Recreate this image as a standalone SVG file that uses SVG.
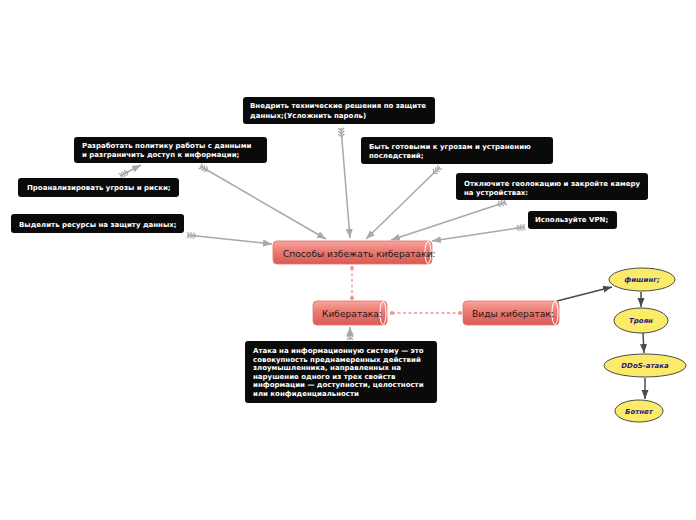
<svg xmlns="http://www.w3.org/2000/svg" width="696" height="520" viewBox="0 0 696 520">
<defs>
<linearGradient id="pink" x1="0" y1="0" x2="0" y2="1">
<stop offset="0" stop-color="#f7a59c"/>
<stop offset="0.45" stop-color="#ec7a72"/>
<stop offset="1" stop-color="#d85b55"/>
</linearGradient>
<marker id="ah" markerUnits="userSpaceOnUse" markerWidth="10" markerHeight="8" viewBox="0 -4 10 8" refX="9" refY="0" orient="auto">
<path d="M0,-3.5 L9,0 L0,3.5 z" fill="#a8a8a8"/>
</marker>
<marker id="ft" markerUnits="userSpaceOnUse" markerWidth="12" markerHeight="8" viewBox="-1 -4 12 8" refX="0" refY="0" orient="auto">
<path d="M0,-3 L3,0 L0,3 M3,-3 L6,0 L3,3 M6,-3 L9,0 L6,3" fill="none" stroke="#a8a8a8" stroke-width="1.2"/>
</marker>
<marker id="dh" markerUnits="userSpaceOnUse" markerWidth="10" markerHeight="8" viewBox="0 -4 10 8" refX="9" refY="0" orient="auto">
<path d="M0,-3.5 L9,0 L0,3.5 z" fill="#4a4a4a"/>
</marker>
</defs>
<style>
.box{fill:#0a0a0a;}
.bt{font-family:"DejaVu Sans",Verdana,sans-serif;font-size:7px;font-weight:bold;fill:#ffffff;}
.nd{fill:url(#pink);stroke:#e4736c;stroke-width:0.8;}
.cap{fill:none;stroke:#ffffff;stroke-width:1;}
.nt{font-family:"DejaVu Sans",Verdana,sans-serif;font-size:9.1px;fill:#1a1a1a;}
.el{fill:#fbeb68;stroke:#4a4a4a;stroke-width:1;}
.et{font-family:"DejaVu Sans",Verdana,sans-serif;font-size:7px;font-weight:bold;font-style:italic;fill:#1c1c80;text-anchor:middle;}
.gc{fill:none;stroke:#a8a8a8;stroke-width:1.5;marker-start:url(#ft);marker-end:url(#ah);}
.pc{fill:none;stroke:#f4948c;stroke-width:1.3;stroke-dasharray:3,2.5;}
.pd{fill:#f4948c;}
.dc{fill:none;stroke:#4a4a4a;stroke-width:1.5;marker-end:url(#dh);}
</style>
<g id="connectors">
<line class="gc" x1="341" y1="128" x2="350" y2="238"/>
<line class="gc" x1="200" y1="166" x2="326" y2="239"/>
<line class="gc" x1="120" y1="176" x2="141" y2="165"/>
<line class="gc" x1="187" y1="235" x2="272" y2="244"/>
<line class="gc" x1="440" y1="167" x2="366" y2="239"/>
<line class="gc" x1="506" y1="202" x2="391" y2="240"/>
<line class="gc" x1="525" y1="227" x2="432" y2="241"/>
<line class="gc" x1="350" y1="340" x2="350" y2="327"/>
<line class="pc" x1="352" y1="268" x2="352" y2="298"/>
<circle class="pd" cx="352" cy="268" r="2"/>
<circle class="pd" cx="352" cy="298" r="2"/>
<line class="pc" x1="392" y1="313" x2="460" y2="313"/>
<circle class="pd" cx="392" cy="313" r="2"/>
<circle class="pd" cx="460" cy="313" r="2"/>
<line class="dc" x1="557" y1="301" x2="612" y2="287"/>
<line class="dc" x1="641" y1="292" x2="641" y2="307"/>
<line class="dc" x1="643" y1="333" x2="644" y2="353"/>
<line class="dc" x1="645" y1="378" x2="645" y2="399"/>
</g>
<g id="n-main">
<rect class="nd" x="273" y="241" width="159" height="23" rx="4"/>
<ellipse class="cap" cx="428" cy="252.5" rx="3" ry="11"/>
<text class="nt" x="283" y="256.5">Способы избежать кибератаки:</text>
</g>
<g id="n-cyber">
<rect class="nd" x="313" y="301" width="74" height="24" rx="4"/>
<ellipse class="cap" cx="383" cy="313" rx="3" ry="11.5"/>
<text class="nt" x="322" y="316.5">Кибератака:</text>
</g>
<g id="n-types">
<rect class="nd" x="463" y="301" width="96" height="24" rx="4"/>
<ellipse class="cap" cx="555" cy="313" rx="3" ry="11.5"/>
<text class="nt" x="472" y="316.5">Виды кибератак:</text>
</g>
<g id="b-tech">
<rect class="box" x="243" y="97" width="192" height="27" rx="3"/>
<text class="bt" x="250" y="108">Внедрить технические решения по защите</text>
<text class="bt" x="250" y="118">данных;(Усложнить пароль)</text>
</g>
<g id="b-policy">
<rect class="box" x="74" y="137" width="193" height="26" rx="3"/>
<text class="bt" x="82" y="148">Разработать политику работы с данными</text>
<text class="bt" x="82" y="157">и разграничить доступ к информации;</text>
</g>
<g id="b-analyze">
<rect class="box" x="18" y="178" width="161" height="19" rx="3"/>
<text class="bt" x="27" y="190">Проанализировать угрозы и риски;</text>
</g>
<g id="b-resources">
<rect class="box" x="11" y="214" width="173" height="19" rx="3"/>
<text class="bt" x="19" y="227">Выделить ресурсы на защиту данных;</text>
</g>
<g id="b-ready">
<rect class="box" x="361" y="137" width="192" height="27" rx="3"/>
<text class="bt" x="369" y="149">Быть готовыми к угрозам и устранению</text>
<text class="bt" x="369" y="158">последствий;</text>
</g>
<g id="b-geo">
<rect class="box" x="456" y="173" width="192" height="27" rx="3"/>
<text class="bt" x="464" y="186">Отключите геолокацию и закройте камеру</text>
<text class="bt" x="464" y="195">на устройствах:</text>
</g>
<g id="b-vpn">
<rect class="box" x="528" y="211" width="89" height="18" rx="3"/>
<text class="bt" x="535" y="222">Используйте VPN;</text>
</g>
<g id="b-def">
<rect class="box" x="245" y="341" width="192" height="62" rx="3"/>
<text class="bt" x="253" y="353">Атака на информационную систему — это</text>
<text class="bt" x="253" y="361.6">совокупность преднамеренных действий</text>
<text class="bt" x="253" y="370.2">злоумышленника, направленных на</text>
<text class="bt" x="253" y="378.8">нарушение одного из трех свойств</text>
<text class="bt" x="253" y="387.4">информации — доступности, целостности</text>
<text class="bt" x="253" y="396">или конфиденциальности</text>
</g>
<g id="e-phishing">
<ellipse class="el" cx="642" cy="279.5" rx="33" ry="11.5"/>
<text class="et" x="642" y="282">фишинг;</text>
</g>
<g id="e-trojan">
<ellipse class="el" cx="641" cy="320.5" rx="27" ry="12.5"/>
<text class="et" x="641" y="323">Троян</text>
</g>
<g id="e-ddos">
<ellipse class="el" cx="645" cy="365.5" rx="41" ry="11.5"/>
<text class="et" x="645" y="368">DDoS-атака</text>
</g>
<g id="e-botnet">
<ellipse class="el" cx="639" cy="411" rx="24" ry="11"/>
<text class="et" x="639" y="413.5">Ботнет</text>
</g>
</svg>
